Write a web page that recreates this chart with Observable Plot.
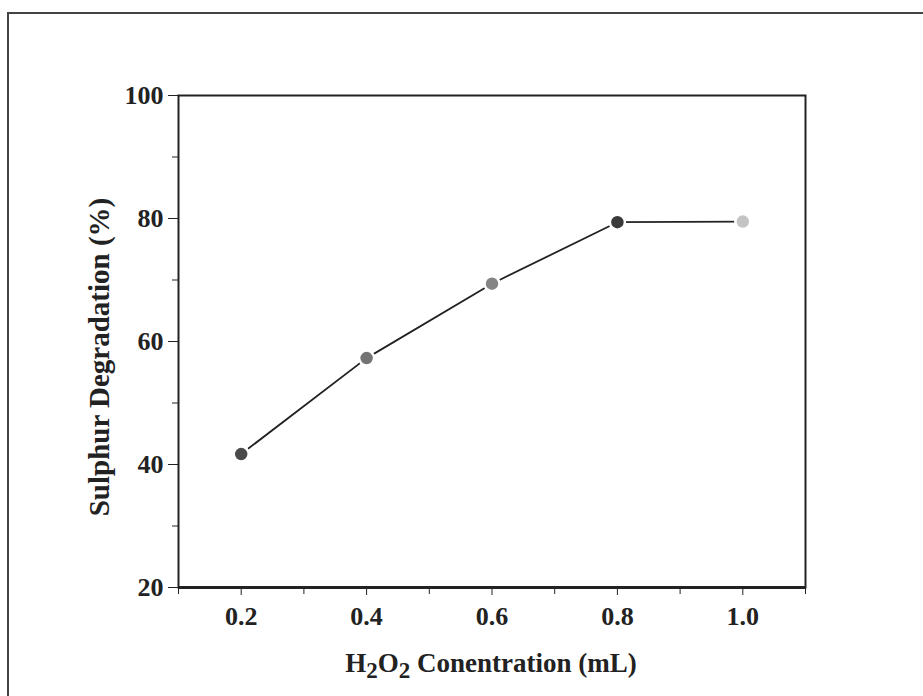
<!DOCTYPE html>
<html>
<head>
<meta charset="utf-8">
<script src="https://cdn.jsdelivr.net/npm/d3@7"></script>
<script src="https://cdn.jsdelivr.net/npm/@observablehq/plot@0.6"></script>
<style>
  html, body { margin: 0; padding: 0; background: #fff; }
  #wrap { position: relative; width: 923px; height: 696px; overflow: hidden; }
  #border { position: absolute; left: 7px; top: 12px; width: 940px; height: 720px; border: 2px solid #444; box-sizing: border-box; }
  #chart { position: absolute; left: 0; top: 0; }
</style>
</head>
<body>
<div id="wrap">
  <div id="border"></div>
  <div id="chart"></div>
</div>
<script>
const concentration = [0.2, 0.4, 0.6, 0.8, 1.0];
const degradation = [41.7, 57.3, 69.4, 79.4, 79.5];
const pointColors = ["#4a4a4a", "#747474", "#858585", "#3a3a3a", "#c4c4c4"];
const yMajorTicks = [20, 40, 60, 80, 100];
const yMinorTicks = [30, 50, 70, 90];
const xMajorTicks = [0.2, 0.4, 0.6, 0.8, 1.0];
const xMinorTicks = [0.1, 0.3, 0.5, 0.7, 0.9, 1.1];
const yLabel = "Sulphur Degradation (%)";

const data = concentration.map((c, i) => ({x: c, y: degradation[i], color: pointColors[i]}));
const FONT = "'Liberation Serif', 'Times New Roman', serif";

const plot = Plot.plot({
  width: 923,
  height: 696,
  marginLeft: 178,
  marginRight: 118,
  marginTop: 95,
  marginBottom: 109,
  style: {fontFamily: FONT, fontSize: "26px", fontWeight: "bold", color: "#222", background: "transparent"},
  x: {domain: [0.1, 1.1]},
  y: {domain: [20, 100]},
  marks: [
    Plot.axisY(yMajorTicks, {tickSize: 10, tickPadding: 5, label: null, fontSize: 26, stroke: "#222"}),
    Plot.axisY(yMinorTicks, {tickSize: 6, tickFormat: () => "", label: null, stroke: "#222"}),
    Plot.axisX(xMajorTicks, {tickSize: 8, tickPadding: 11, tickFormat: d3.format(".1f"), label: null, fontSize: 26, stroke: "#222"}),
    Plot.axisX(xMinorTicks, {tickSize: 7, tickFormat: () => "", label: null, stroke: "#222"}),
    Plot.frame({stroke: "#222", strokeWidth: 2}),
    Plot.ruleY([20], {stroke: "#222", strokeWidth: 3}),
    Plot.line(data, {x: "x", y: "y", stroke: "#222", strokeWidth: 1.8}),
    Plot.dot(data, {x: "x", y: "y", r: 7.5, fill: "color", stroke: "#fff", strokeWidth: 2.5})
  ]
});
document.getElementById("chart").appendChild(plot);

const svg = d3.select(plot);
// y-axis label
svg.append("text")
  .attr("transform", "translate(109,357) rotate(-90)")
  .attr("text-anchor", "middle")
  .attr("font-family", FONT)
  .attr("font-weight", "bold")
  .attr("font-size", 29)
  .attr("fill", "#222")
  .text(yLabel);

// x-axis label with real subscripts
const xl = svg.append("text")
  .attr("x", 491)
  .attr("y", 672)
  .attr("text-anchor", "middle")
  .attr("font-family", FONT)
  .attr("font-weight", "bold")
  .attr("font-size", 27)
  .attr("fill", "#222");
xl.append("tspan").text("H");
xl.append("tspan").attr("dy", 6).attr("font-size", 23).text("2");
xl.append("tspan").attr("dy", -6).text("O");
xl.append("tspan").attr("dy", 6).attr("font-size", 23).text("2");
xl.append("tspan").attr("dy", -6).text(" Conentration (mL)");
</script>
</body>
</html>
